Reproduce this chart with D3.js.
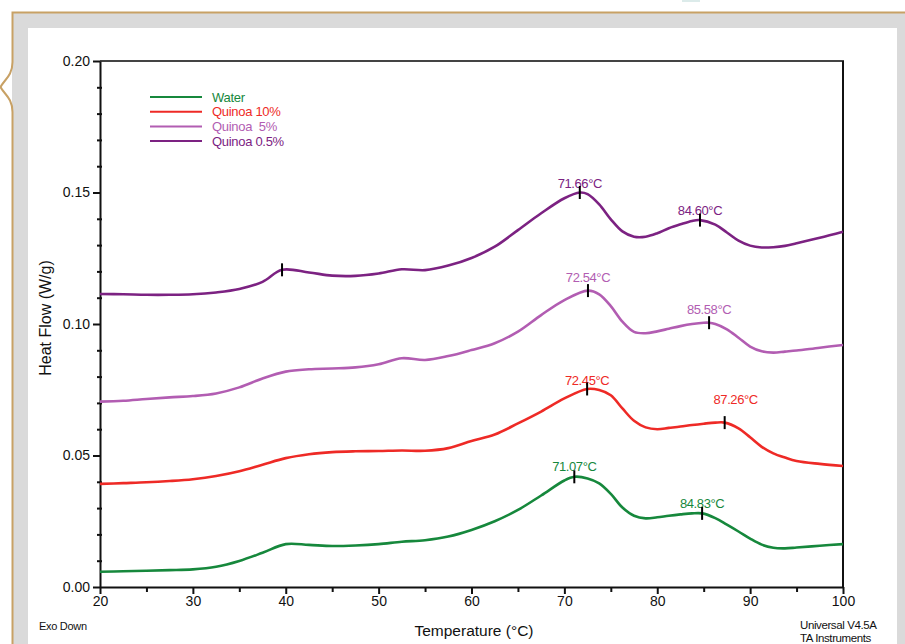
<!DOCTYPE html>
<html>
<head>
<meta charset="utf-8">
<script src="https://cdn.jsdelivr.net/npm/d3@7"></script>
<style>
  body { margin: 0; background: #fff; }
  text { font-family: "Liberation Sans", Arial, sans-serif; }
</style>
</head>
<body>
<div id="root"></div>
<script>
const w = 905;
const h = 644;
const margin = { top: 61, bottom: 57, left: 100, right: 62 };

// temperature grid (°C), finer over the transitions
const temps = [20, 22.5, 25, 27.5, 30, 32.5, 35, 37.5, 40, 42.5, 45, 47.5, 50, 52.5, 55, 57.5,
  60, 62.5, 65, 67.5, 70,
  72.5, 73.75, 75, 76.25, 77.5, 78.75, 80, 81.25, 82.5, 83.75, 85, 86.25, 87.5, 88.75, 90,
  91.25, 92.5, 93.75, 95, 97.5, 100];

// heat flow (W/g)
const water = [0.0058, 0.0060, 0.0062, 0.0064, 0.0067, 0.0077, 0.0099, 0.0130, 0.0163, 0.0160, 0.0156, 0.0158,
  0.0163, 0.0172, 0.0178, 0.0192, 0.0217, 0.0250, 0.0293, 0.0348, 0.0405,
  0.0413, 0.0394, 0.0354, 0.0302, 0.0271, 0.0261, 0.0265, 0.0271, 0.0276, 0.0280, 0.0280, 0.0262, 0.0237,
  0.0211, 0.0184, 0.0161, 0.0149, 0.0147, 0.0150, 0.0157, 0.0163];
const quinoa10 = [0.0392, 0.0395, 0.0398, 0.0403, 0.0410, 0.0422, 0.0440, 0.0465, 0.0490, 0.0505, 0.0513, 0.0516,
  0.0517, 0.0519, 0.0518, 0.0528, 0.0555, 0.0580, 0.0622, 0.0667, 0.0717,
  0.0752, 0.0749, 0.0729, 0.0679, 0.0632, 0.0607, 0.0600, 0.0605, 0.0610, 0.0616, 0.0621, 0.0625, 0.0622,
  0.0603, 0.0569, 0.0533, 0.0508, 0.0492, 0.0479, 0.0468, 0.0460];
const quinoa5 = [0.0705, 0.0708, 0.0715, 0.0721, 0.0726, 0.0736, 0.0759, 0.0793, 0.0819, 0.0828, 0.0831, 0.0835,
  0.0847, 0.0870, 0.0863, 0.0878, 0.0901, 0.0927, 0.0971, 0.1034, 0.1091,
  0.1127, 0.1113, 0.1068, 0.1009, 0.0970, 0.0965, 0.0972, 0.0982, 0.0992, 0.1000, 0.1005, 0.1000, 0.0980,
  0.0948, 0.0914, 0.0896, 0.0891, 0.0895, 0.0899, 0.0910, 0.0920];
const quinoa05 = [0.1114, 0.1113, 0.1111, 0.1111, 0.1113, 0.1120, 0.1133, 0.1160, 0.1205, 0.1196, 0.1184, 0.1183,
  0.1192, 0.1208, 0.1205, 0.1222, 0.1251, 0.1294, 0.1357, 0.1421, 0.1478,
  0.1494, 0.1455, 0.1398, 0.1352, 0.1332, 0.1332, 0.1345, 0.1364, 0.1379, 0.1392, 0.1393, 0.1378, 0.1348,
  0.1317, 0.1298, 0.1291, 0.1292, 0.1297, 0.1307, 0.1328, 0.1351];

const keys = ["Water", "Quinoa 10%", "Quinoa  5%", "Quinoa 0.5%"];
const colors = ["#16883c", "#ee2a26", "#b25db2", "#7c2282"];
const series = [water, quinoa10, quinoa5, quinoa05];

// peak temperatures and heat flow at the marker
const peakTemps = [[71.07, 84.83], [72.45, 87.26], [72.54, 85.58], [39.6, 71.66, 84.60]];
const peakFlows = [[0.0419, 0.0280], [0.0753, 0.0625], [0.1127, 0.1005], [0.1206, 0.1500, 0.1395]];
const peakLabelled = [[true, true], [true, true], [true, true], [false, true, true]];
// label offsets from the marker (px)
const labelShift = [[[0, -6], [0, -5]], [[0, -4], [11, -19]], [[0, -9], [0, -9]], [[0, 0], [0, -5], [0, -5]]];

const xTicks = [20, 30, 40, 50, 60, 70, 80, 90, 100];
const xMinor = [25, 35, 45, 55, 65, 75, 85, 95];
const yTicks = [0, 0.05, 0.10, 0.15, 0.20];
const yMinor = [0.01, 0.02, 0.03, 0.04, 0.06, 0.07, 0.08, 0.09, 0.11, 0.12, 0.13, 0.14, 0.16, 0.17, 0.18, 0.19];

const svg = d3.select("#root").append("svg")
  .attr("width", w)
  .attr("height", h);

// page frame
svg.append("rect").attr("x", 0).attr("y", 0).attr("width", w).attr("height", h).attr("fill", "#fff");
svg.append("rect").attr("x", 682).attr("y", 0).attr("width", 18).attr("height", 2).attr("fill", "#dcebea");
svg.append("rect").attr("x", 12).attr("y", 12).attr("width", w - 12).attr("height", h - 12).attr("fill", "#dadada");
svg.append("rect").attr("x", 28).attr("y", 28).attr("width", 869).attr("height", h - 28).attr("fill", "#fff");
svg.append("path")
  .attr("d", "M905,12.5 H12.5 V62 C12.5,76 4,80 0.5,87 C4,94 12.5,98 12.5,112 V644")
  .attr("fill", "none")
  .attr("stroke", "#c8a165")
  .attr("stroke-width", 2);

const xScale = d3.scaleLinear().domain([20, 100]).range([margin.left, w - margin.right]);
const yScale = d3.scaleLinear().domain([0, 0.2]).range([h - margin.bottom, margin.top]);

// top and right frame of the plot
svg.append("line")
  .attr("x1", margin.left).attr("x2", w - margin.right + 1)
  .attr("y1", margin.top).attr("y2", margin.top)
  .attr("stroke", "#444").attr("stroke-width", 2);
svg.append("line")
  .attr("x1", w - margin.right).attr("x2", w - margin.right)
  .attr("y1", margin.top).attr("y2", h - margin.bottom)
  .attr("stroke", "#111").attr("stroke-width", 2);

// x axis
const xAxis = d3.axisBottom(xScale).tickValues(xTicks).tickSize(7).tickSizeOuter(0).tickPadding(2);
const gx = svg.append("g")
  .attr("transform", "translate(0," + (h - margin.bottom) + ")")
  .call(xAxis);
svg.append("g")
  .attr("transform", "translate(0," + (h - margin.bottom) + ")")
  .call(d3.axisBottom(xScale).tickValues(xMinor).tickSize(5).tickFormat(""))
  .call(g => g.select(".domain").remove());

// y axis
const yAxis = d3.axisLeft(yScale).tickValues(yTicks).tickFormat(d3.format(".2f")).tickSize(7).tickSizeOuter(0).tickPadding(3);
const gy = svg.append("g")
  .attr("transform", "translate(" + margin.left + ",0)")
  .call(yAxis);
svg.append("g")
  .attr("transform", "translate(" + (margin.left + 2) + ",0)")
  .call(d3.axisLeft(yScale).tickValues(yMinor).tickSize(5).tickFormat(""))
  .call(g => g.select(".domain").remove());

svg.selectAll(".domain").attr("stroke", "#111").attr("stroke-width", 2);
svg.selectAll(".tick line").attr("stroke", "#111").attr("stroke-width", 2);
gx.selectAll("text").style("font-size", "14px").attr("fill", "#111");
gy.selectAll("text").style("font-size", "14px").attr("fill", "#111");

// curves
const line = d3.line()
  .x(d => xScale(d[0]))
  .y(d => yScale(d[1]))
  .curve(d3.curveCatmullRom.alpha(0.5));

series.forEach((vals, i) => {
  const pts = temps.map((t, j) => [t, vals[j]])
    .filter(p => !peakTemps[i].some(pt => Math.abs(pt - p[0]) < 0.5));
  peakTemps[i].forEach((pt, k) => pts.push([pt, peakFlows[i][k]]));
  pts.sort((a, b) => a[0] - b[0]);
  svg.append("path")
    .datum(pts)
    .attr("d", line)
    .attr("fill", "none")
    .attr("stroke", colors[i])
    .attr("stroke-width", 2.6)
    .attr("stroke-linejoin", "round");
});

// peak markers + labels
series.forEach((vals, i) => {
  peakTemps[i].forEach((pt, k) => {
    const px = xScale(pt);
    const py = yScale(peakFlows[i][k]);
    if (peakLabelled[i][k]) {
      svg.append("text")
        .attr("x", px + labelShift[i][k][0])
        .attr("y", py + labelShift[i][k][1])
        .attr("text-anchor", "middle")
        .attr("fill", colors[i])
        .style("font-size", "13px")
        .style("letter-spacing", "-0.4px")
        .text(pt.toFixed(2) + "°C");
    }
    svg.append("line")
      .attr("x1", px).attr("x2", px)
      .attr("y1", py - 6.5).attr("y2", py + 6.5)
      .attr("stroke", "#000").attr("stroke-width", 2);
  });
});

// legend
const legend = svg.append("g").attr("id", "legend");
legend.selectAll("line")
  .data(keys)
  .enter()
  .append("line")
  .attr("x1", 150).attr("x2", 202)
  .attr("y1", (d, i) => 97 + i * 14.7)
  .attr("y2", (d, i) => 97 + i * 14.7)
  .attr("stroke", (d, i) => colors[i])
  .attr("stroke-width", 2);
legend.selectAll("text")
  .data(keys)
  .enter()
  .append("text")
  .attr("x", 212)
  .attr("y", (d, i) => 101.5 + i * 14.7)
  .attr("fill", (d, i) => colors[i])
  .attr("xml:space", "preserve")
  .style("white-space", "pre")
  .style("font-size", "13px")
  .style("letter-spacing", "-0.3px")
  .text(d => d);

// axis titles and notes
svg.append("text")
  .attr("transform", "translate(51,318) rotate(-90)")
  .attr("text-anchor", "middle")
  .style("font-size", "16px")
  .attr("fill", "#111")
  .text("Heat Flow (W/g)");
svg.append("text")
  .attr("x", 474).attr("y", 636)
  .attr("text-anchor", "middle")
  .style("font-size", "15.5px")
  .attr("fill", "#111")
  .text("Temperature (°C)");
svg.append("text")
  .attr("x", 39).attr("y", 630)
  .style("font-size", "11px")
  .style("letter-spacing", "-0.3px")
  .attr("fill", "#111")
  .text("Exo Down");
svg.append("text")
  .attr("x", 800).attr("y", 629)
  .style("font-size", "11.5px")
  .style("letter-spacing", "-0.4px")
  .attr("fill", "#111")
  .text("Universal V4.5A");
svg.append("text")
  .attr("x", 800).attr("y", 642)
  .style("font-size", "11.5px")
  .style("letter-spacing", "-0.4px")
  .attr("fill", "#111")
  .text("TA Instruments");
</script>
</body>
</html>
